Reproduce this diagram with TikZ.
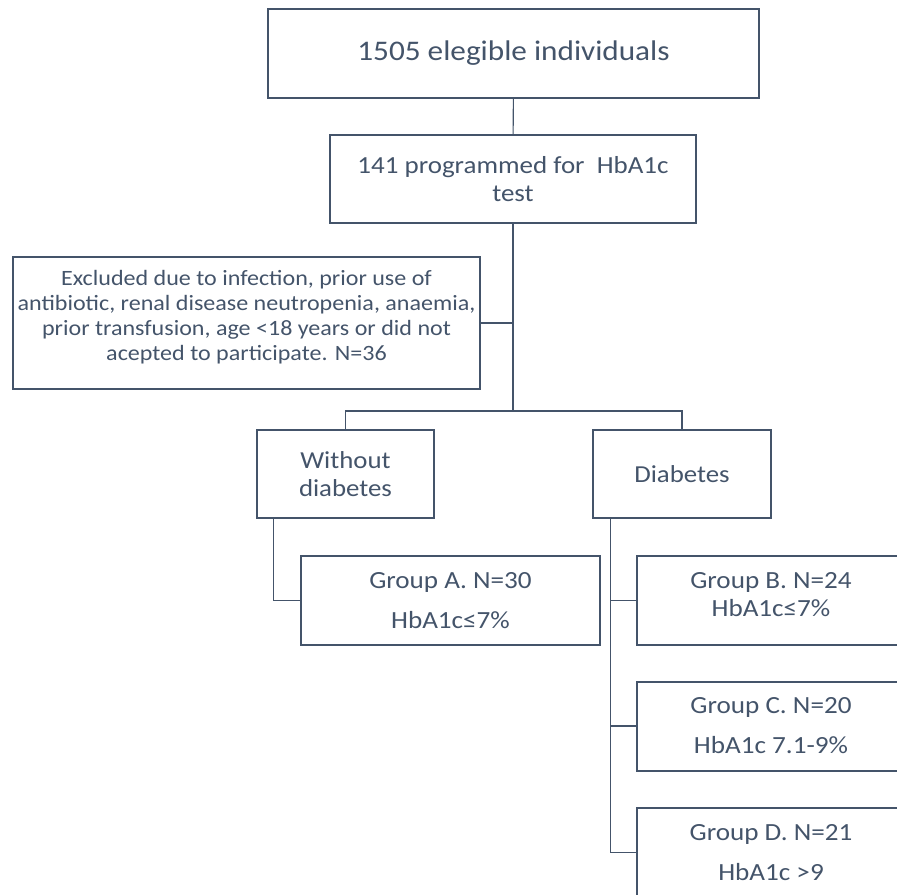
\documentclass[tikz,border=0pt]{standalone}
\usepackage{fontspec}
\setmainfont{Carlito}[FakeStretch=1.1]
\usetikzlibrary{positioning,calc}
\definecolor{slate}{HTML}{44546A}

\begin{document}
\begin{tikzpicture}[
    x=0.75pt,y=-0.75pt,
    box/.style={rectangle,draw=slate,line width=1.5pt,text=slate,align=center,inner sep=0pt},
    widebox/.style={box,minimum width=368pt,minimum height=67pt,font=\fontsize{21.3}{25}\selectfont},
    midbox/.style={box,minimum width=274.5pt,minimum height=66pt,font=\fontsize{18.4}{21.5}\selectfont},
    exclbox/.style={box,minimum width=350pt,minimum height=99pt,font=\fontsize{16.4}{18.75}\selectfont},
    armbox/.style={box,minimum width=133pt,minimum height=66pt,font=\fontsize{18.3}{21}\selectfont},
    groupbox/.style={box,minimum width=224pt,minimum height=66.75pt,font=\fontsize{18.5}{30}\selectfont},
    link/.style={draw=slate,line width=0.8pt}
]
\useasboundingbox (0,0) rectangle (897,894);
\clip (0,0) rectangle (897,894);

% Eligible
\node[widebox] (elig) at (513.5,53.5) {1505 elegible individuals};

% Programmed
\node[midbox] (prog) at (513,179) {141 programmed for~ HbA1c\\test};

% Excluded
\node[exclbox] (excl) at (246.5,323) {Excluded due to infection, prior use of\\antibiotic, renal disease neutropenia, anaemia,\\prior transfusion, age <18 years or did not\\acepted to participate. N=36\rule[-11pt]{0pt}{0pt}};

% Arms
\node[armbox] (nodiab) at (345.5,474) {Without\\diabetes};
\node[armbox] (diab) at (682,474) {Diabetes};

% Groups
\node[groupbox] (grpA) at (450.5,600.5) {Group A. N=30\\HbA1c≤7\%};
\node[groupbox,minimum width=201pt,font=\fontsize{18.5}{21}\selectfont] (grpB) at (771,600.5) {Group B. N=24\\HbA1c≤7\%\rule[-9pt]{0pt}{0pt}};
\node[groupbox,minimum width=201pt] (grpC) at (771,726) {Group C. N=20\\HbA1c 7.1-9\%};
\node[groupbox,minimum width=201pt] (grpD) at (771,852.5) {Group D. N=21\\HbA1c >9};

% Links
\coordinate (split) at (513,411);
\draw[link] (elig) -- (prog);
\draw[link] (prog) -- (split);
\draw[link] (excl.east) -- (excl.east -| split);
\draw[link] (nodiab.north) |- (split) -| (diab.north);
\draw[link] ([xshift=13.5pt]nodiab.south west) |- (grpA.west);
\draw[link] ([xshift=13.5pt]diab.south west) |- (grpD.west);
\draw[link] ([xshift=13.5pt]diab.south west) |- (grpB.west);
\draw[link] ([xshift=13.5pt]diab.south west) |- (grpC.west);
\end{tikzpicture}
\end{document}
